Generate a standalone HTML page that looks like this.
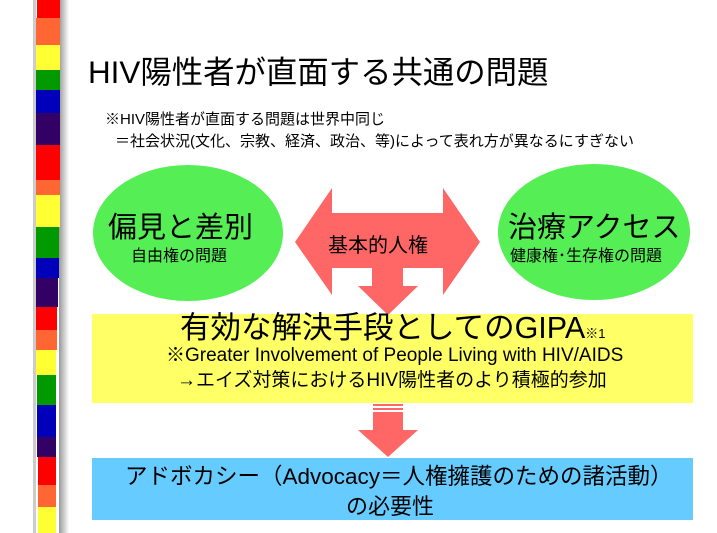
<!DOCTYPE html>
<html><head><meta charset="utf-8"><style>
body{margin:0;width:717px;height:533px;background:#fff;overflow:hidden;position:relative;font-family:"Liberation Sans","Noto Sans CJK JP",sans-serif;color:#000}
.t{position:absolute;white-space:nowrap}
</style></head><body>
<svg width="717" height="533" style="position:absolute;left:0;top:0">
<defs><linearGradient id="sh" x1="0" x2="1"><stop offset="0" stop-color="#999"/><stop offset="1" stop-color="#fff"/></linearGradient></defs>
<rect x="59" y="0" width="10" height="533" fill="url(#sh)"/>
<rect x="33" y="0" width="3" height="533" fill="#ccc"/>
<g>
<rect x="37" y="0" width="23" height="18" fill="#f00"/>
<rect x="36" y="18" width="24" height="27" fill="#f63"/>
<rect x="36" y="45" width="24" height="25" fill="#ff3"/>
<rect x="36" y="70" width="24" height="20" fill="#090"/>
<rect x="36" y="90" width="24" height="23" fill="#00b"/>
<rect x="36" y="113" width="24" height="32" fill="#306"/>
<rect x="36" y="145" width="24" height="35" fill="#f00"/>
<rect x="36" y="180" width="24" height="15" fill="#f63"/>
<rect x="36" y="195" width="24" height="32" fill="#ff3"/>
<rect x="36" y="227" width="23" height="31" fill="#090"/>
<rect x="36" y="258" width="23" height="20" fill="#00b"/>
<rect x="36" y="278" width="22" height="29" fill="#306"/>
<rect x="36" y="307" width="21" height="23" fill="#f00"/>
<rect x="36" y="330" width="21" height="20" fill="#f63"/>
<rect x="36" y="350" width="20" height="25" fill="#ff3"/>
<rect x="37" y="375" width="19" height="30" fill="#090"/>
<rect x="37" y="405" width="19" height="32" fill="#00b"/>
<rect x="37" y="437" width="19" height="20" fill="#306"/>
<rect x="38" y="457" width="18" height="28" fill="#f00"/>
<rect x="38" y="485" width="18" height="22" fill="#f63"/>
<rect x="38" y="507" width="18" height="26" fill="#ff3"/>
</g>
<ellipse cx="188" cy="233" rx="95" ry="68" fill="#5e5"/>
<ellipse cx="594" cy="232" rx="96" ry="68" fill="#5e5"/>
<polygon points="295,242 332,188 332,213 443,213 443,188 480,242 443,295 443,268 332,268 332,295" fill="#f66"/>
<polygon points="372,268 403,268 403,286 418,286 388,315 358,286 372,286" fill="#f66"/>
<rect x="92" y="314" width="601" height="89" fill="#ff6"/>
<rect x="92" y="458" width="601" height="62" fill="#6cf"/>
<rect x="373" y="404" width="30" height="2" fill="#f66"/>
<rect x="373" y="408" width="30" height="2" fill="#f66"/>
<polygon points="373,412 403,412 403,430 418,430 388,457 358,430 373,430" fill="#f66"/>
</svg>
<div class="t" style="left:88px;top:48px;font-size:31.4px">HIV陽性者が直面する共通の問題</div>
<div class="t" style="left:105px;top:108px;font-size:15px">※HIV陽性者が直面する問題は世界中同じ</div>
<div class="t" style="left:115px;top:130px;font-size:15px">＝社会状況(文化、宗教、経済、政治、等)によって表れ方が異なるにすぎない</div>
<div class="t" style="left:108px;top:204px;font-size:29px">偏見と差別</div>
<div class="t" style="left:131px;top:242px;font-size:16px">自由権の問題</div>
<div class="t" style="left:508px;top:204px;font-size:29px">治療アクセス</div>
<div class="t" style="left:510px;top:242px;font-size:16px">健康権･生存権の問題</div>
<div class="t" style="left:328px;top:229px;font-size:20px">基本的人権</div>
<div class="t" style="left:180px;top:303px;font-size:30.5px">有効な解決手段としてのGIPA<span style="font-size:13px">※1</span></div>
<div class="t" style="left:166px;top:340px;font-size:19px">※Greater Involvement of People Living with HIV/AIDS</div>
<div class="t" style="left:177px;top:365px;font-size:19px">→エイズ対策におけるHIV陽性者のより積極的参加</div>
<div class="t" style="left:125px;top:459px;font-size:22.5px">アドボカシー（Advocacy＝人権擁護のための諸活動）</div>
<div class="t" style="left:346px;top:489px;font-size:22px">の必要性</div>
</body></html>
